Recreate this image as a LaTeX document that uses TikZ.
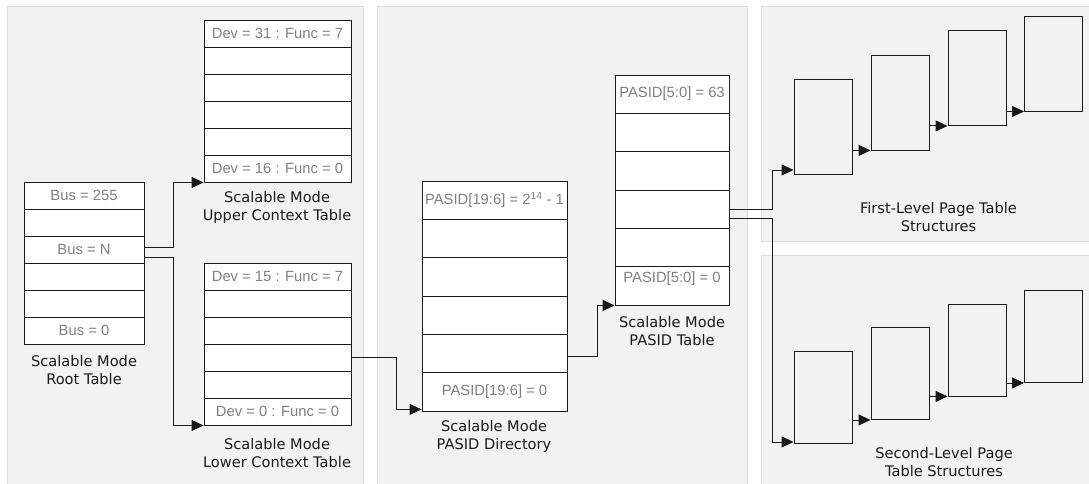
\documentclass[tikz,border=0pt]{standalone}
\usepackage{fontspec}
\newfontfamily\lblf{Liberation Sans}
\newfontfamily\capf{DejaVu Sans}
\usetikzlibrary{arrows.meta}
\definecolor{panelfill}{HTML}{F2F2F2}
\definecolor{paneledge}{HTML}{DCDCDC}
\definecolor{lblgray}{HTML}{808080}
\definecolor{inkc}{HTML}{1A1A1A}
\tikzset{
  panel/.style={fill=panelfill, draw=paneledge, line width=1pt},
  cell/.style={draw=inkc, fill=white, line width=0.9pt, rectangle, inner sep=0pt,
    text=lblgray, font=\lblf\fontsize{14.8pt}{17pt}\selectfont},
  pgbox/.style={draw=inkc, fill=panelfill, line width=0.9pt, rectangle, inner sep=0pt,
    minimum width=58pt},
  capt/.style={align=center, text=inkc, inner sep=0pt,
    font=\capf\fontsize{14.6pt}{18pt}\selectfont},
  lbl/.style={text=lblgray, inner sep=0pt, font=\lblf\fontsize{14.8pt}{17pt}\selectfont},
  arr/.style={draw=inkc, line width=0.9pt, -{Triangle[length=12pt,width=11pt]}}
}
\begin{document}
\begin{tikzpicture}[x=1pt,y=-1pt]
\fill[white] (0,0) rectangle (1089,484);
\useasboundingbox (0,0) rectangle (1089,484);
% panels
\draw[panel] (7,7) rectangle (363,487);
\draw[panel] (377,7) rectangle (747,487);
\draw[panel] (761,7) rectangle (1093,241);
\draw[panel] (761,255) rectangle (1093,487);

% root table
\foreach \i/\t in {1/Bus = 255, 2/, 3/Bus = N, 4/, 5/, 6/Bus = 0}
  \node[cell, minimum width=120pt, minimum height=27pt] (root\i) at (84,{195.5+27*(\i-1)}) {\t};
\node[capt] (rootcap) at (84,370.5) {Scalable Mode\\Root Table};

% upper context table
\foreach \i/\t in {1/Dev = 31 : Func = 7, 2/, 3/, 4/, 5/, 6/Dev = 16 : Func = 0}
  \node[cell, minimum width=147pt, minimum height=27pt] (up\i) at (277.5,{33.5+27*(\i-1)}) {\t};
\node[capt] (upcap) at (277,207) {Scalable Mode\\Upper Context Table};

% lower context table
\foreach \i/\t in {1/Dev = 15 : Func = 7, 2/, 3/, 4/, 5/, 6/Dev = 0 : Func = 0}
  \node[cell, minimum width=147pt, minimum height=27pt] (lo\i) at (277.5,{276.5+27*(\i-1)}) {\t};
\node[capt] (locap) at (277,453) {Scalable Mode\\Lower Context Table};

% PASID directory
\foreach \i/\t in {1/{PASID[19:6] = 2\textsuperscript{14} - 1}, 2/, 3/, 4/, 5/, 6/{PASID[19:6] = 0}}
  \node[cell, minimum width=145pt, minimum height=38.33pt] (dir\i) at (494.5,{200.17+38.33*(\i-1)}) {\t};
\node[capt] (dircap) at (494,436) {Scalable Mode\\PASID Directory};

% PASID table
\foreach \i/\t in {1/{PASID[5:0] = 63}, 2/, 3/, 4/, 5/, 6/}
  \node[cell, minimum width=114pt, minimum height=38.33pt] (pt\i) at (672,{94.17+38.33*(\i-1)}) {\t};
\node[lbl] (pt6l) at ([yshift=7pt]pt6.center) {PASID[5:0] = 0};
\node[capt] (ptcap) at (672,331.5) {Scalable Mode\\PASID Table};

% first-level boxes
\node[pgbox, minimum height=95pt] (f1) at (823,126.5) {};
\node[pgbox, minimum height=95pt] (f2) at (900,102.5) {};
\node[pgbox, minimum height=95pt] (f3) at (977,78) {};
\node[pgbox, minimum height=95pt] (f4) at (1053.5,63.5) {};
\node[capt] (fcap) at (938.5,217) {First-Level Page Table\\Structures};

% second-level boxes
\node[pgbox, minimum height=92pt] (s1) at (823,397) {};
\node[pgbox, minimum height=92pt] (s2) at (900,373.5) {};
\node[pgbox, minimum height=92pt] (s3) at (977,350) {};
\node[pgbox, minimum height=92pt] (s4) at (1053.5,336.5) {};
\node[capt] (scap) at (944,462) {Second-Level Page\\Table Structures};

% connectors
\draw[arr] ([yshift=2.5pt]root3.east) -- ++(29,0) |- (up6.south west);
\draw[arr] ([yshift=-7.5pt]root3.east) -- ++(29,0) |- (lo6.south west);
\draw[arr] (lo4.east) -- ++(45,0) |- ([yshift=2pt]dir6.south west);
\draw[arr] ([yshift=-2.5pt]dir5.east) -- ++(30,0) |- (pt6.south west);
\draw[arr] (pt4.east) -- ++(43,0) |- ([yshift=4.5pt]f1.south west);
\draw[arr] ([yshift=-9.5pt]pt4.east) -- ++(43,0) |- ([yshift=1.5pt]s1.south west);
\draw[arr] (f2.south west -| f1.east) -- (f2.south west);
\draw[arr] (f3.south west -| f2.east) -- (f3.south west);
\draw[arr] (f4.south west -| f3.east) -- (f4.south west);
\draw[arr] (s2.south west -| s1.east) -- (s2.south west);
\draw[arr] (s3.south west -| s2.east) -- (s3.south west);
\draw[arr] (s4.south west -| s3.east) -- (s4.south west);
\end{tikzpicture}
\end{document}
